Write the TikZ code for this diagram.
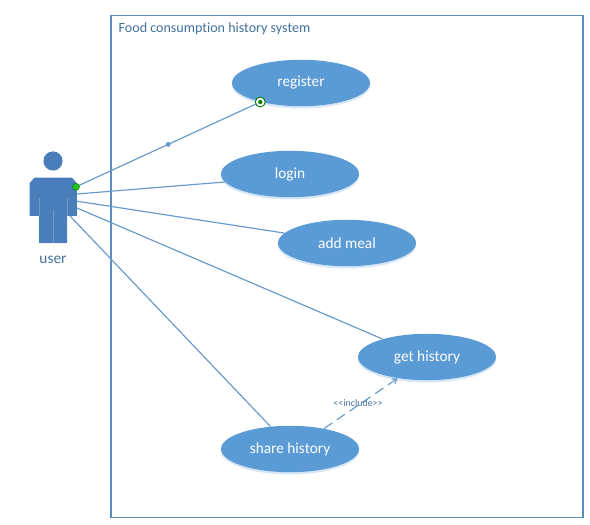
\documentclass[tikz,border=0pt]{standalone}
\usepackage{fontspec}
\setmainfont{Carlito}[Ligatures=NoCommon]
\usetikzlibrary{arrows.meta,shadows,shapes.geometric}
\definecolor{UseFill}{HTML}{5B9BD5}
\definecolor{UseGlow}{HTML}{D6E6F5}
\definecolor{ActorCol}{HTML}{4A7EBB}
\definecolor{LineCol}{HTML}{6A9CCB}
\definecolor{FrameCol}{HTML}{5C8DBB}
\definecolor{TextCol}{HTML}{44709E}
\definecolor{DotGreen}{HTML}{1FC21F}
\begin{document}
\begin{tikzpicture}[
  every node/.style={font=\fontsize{10.9}{12}\selectfont},
  usecase/.style={ellipse, fill=UseFill, text=white, inner sep=0pt,
                  minimum width=3.45cm, minimum height=1.16cm,
                  drop shadow={shadow xshift=0pt, shadow yshift=-1.6pt,
                               fill=UseGlow, opacity=1}},
  assoc/.style={draw=LineCol, line width=0.85pt},
  actorpart/.style={fill=ActorCol, draw=none},
  >={Straight Barb[length=3pt,width=4pt]}]
  \useasboundingbox (0,0) rectangle (14.75,13.1);
  \node[draw=FrameCol, line width=0.75pt, minimum width=11.8cm, minimum height=12.53cm, inner sep=0pt] (system) at (8.675,6.4375) {};
  \node[anchor=west, text=TextCol, font=\fontsize{10}{12}\selectfont, inner sep=0pt] (title) at (2.96,12.37) {Food consumption history system};

  % the actor
  \node[circle, actorpart, minimum size=0.48cm, inner sep=0pt] (head) at (1.325,9.075) {};
  \fill[ActorCol] (0.74,7.7) -- (0.74,8.52) -- (0.86,8.66) -- (1.8,8.66) -- (1.92,8.52)
    -- (1.92,7.7) -- (1.68,7.7) -- (1.68,7.02) -- (0.98,7.02) -- (0.98,7.7) -- cycle;
  \draw[LineCol, line width=0.4pt] (0.98,7.7) -- (0.98,8.15) (1.68,7.7) -- (1.68,8.15) (1.33,7.02) -- (1.33,7.85);
  \node[text=TextCol] (user) at (1.325,6.6) {user};

  \coordinate (p1) at (1.9,8.43);
  \coordinate (p2) at (1.925,8.25);
  \coordinate (p3) at (1.925,8.07);
  \coordinate (p4) at (1.925,7.9);
  \coordinate (p5) at (1.75,7.7);

  \node[usecase] (register) at (7.525,11.025) {register};
  \node[usecase] (login)    at (7.25,8.75) {login};
  \node[usecase] (addmeal)  at (8.675,7.025) {add meal};
  \node[usecase] (gethist)  at (10.675,4.175) {get history};
  \node[usecase] (sharehist) at (7.25,1.875) {share history};

  \draw[assoc] (p1) -- (register.205.5) node[midway, circle, fill=LineCol, inner sep=0pt, minimum size=3.5pt] (middot) {};
  \draw[assoc] (p2) -- (login.187);
  \draw[assoc] (p3) -- (addmeal.171);
  \draw[assoc] (p4) -- (gethist.158);
  \draw[assoc] (p5) -- (sharehist.131);
  \draw[assoc, dash pattern=on 7pt off 4pt, ->] (sharehist.31) -- (gethist.216);
  \node[text=TextCol, font=\fontsize{7.1}{8}\selectfont] (incl) at (8.95,3.02) {<{}<include>{}>};

  % selection handles
  \node[circle, draw=green!45!black, fill=DotGreen, line width=0.3pt, minimum size=5pt, inner sep=0pt] (startdot) at (p1) {};
  \node[circle, draw=green!45!black, fill=white, line width=0.6pt, minimum size=7pt, inner sep=0pt] (enddot) at (register.205.5) {};
  \node[circle, fill=green!50!black, minimum size=3pt, inner sep=0pt] (endcore) at (register.205.5) {};
\end{tikzpicture}
\end{document}
